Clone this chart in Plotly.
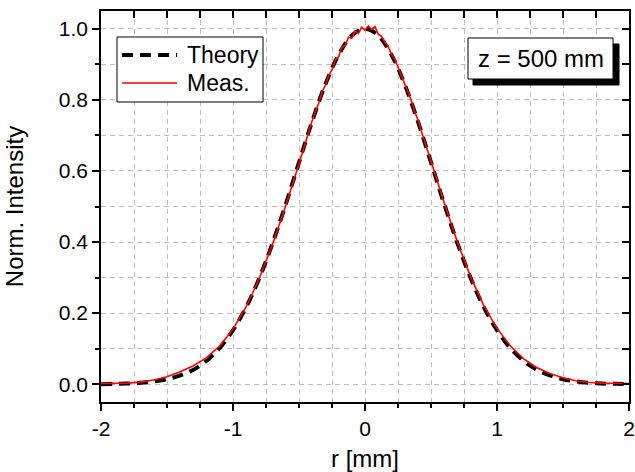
import plotly.graph_objects as go

# beam profile
r_theory = [-2.0, -1.9, -1.8, -1.7, -1.6, -1.5, -1.4, -1.3, -1.2, -1.1, -1.0,
            -0.9, -0.8, -0.7, -0.6, -0.5, -0.4, -0.3, -0.2, -0.1, 0.0,
            0.1, 0.2, 0.3, 0.4, 0.5, 0.6, 0.7, 0.8, 0.9, 1.0,
            1.1, 1.2, 1.3, 1.4, 1.5, 1.6, 1.7, 1.8, 1.9, 2.0]
i_theory = [0.000, 0.001, 0.002, 0.004, 0.008, 0.014, 0.025, 0.041, 0.066, 0.102, 0.152,
            0.217, 0.299, 0.397, 0.507, 0.624, 0.740, 0.844, 0.927, 0.981, 1.000,
            0.981, 0.927, 0.844, 0.740, 0.624, 0.507, 0.397, 0.299, 0.217, 0.152,
            0.102, 0.066, 0.041, 0.025, 0.014, 0.008, 0.004, 0.002, 0.001, 0.000]

r_meas = [-2.0, -1.9, -1.8, -1.7, -1.6, -1.5, -1.4, -1.3, -1.2, -1.1, -1.0,
          -0.9, -0.8, -0.7, -0.6, -0.5,
          -0.475, -0.45, -0.425, -0.4, -0.375, -0.35, -0.325, -0.3, -0.275, -0.25,
          -0.225, -0.2, -0.175, -0.15, -0.125, -0.1, -0.075, -0.05, -0.025, 0.0,
          0.025, 0.05, 0.075, 0.1, 0.125, 0.15, 0.175, 0.2, 0.225, 0.25,
          0.275, 0.3, 0.325, 0.35, 0.375, 0.4, 0.425, 0.45, 0.475, 0.5,
          0.6, 0.7, 0.8, 0.9, 1.0, 1.1, 1.2, 1.3, 1.4, 1.5,
          1.6, 1.7, 1.8, 1.9, 2.0]
i_meas = [0.002, 0.002, 0.003, 0.006, 0.012, 0.021, 0.035, 0.052, 0.075, 0.108, 0.155,
          0.218, 0.298, 0.394, 0.503, 0.620,
          0.652, 0.684, 0.709, 0.742, 0.768, 0.791, 0.823, 0.841, 0.869, 0.884,
          0.912, 0.921, 0.948, 0.953, 0.976, 0.973, 0.994, 0.987, 1.004, 0.996,
          1.008, 0.998, 1.006, 0.985, 0.979, 0.962, 0.951, 0.928, 0.915, 0.892,
          0.870, 0.849, 0.822, 0.799, 0.769, 0.745, 0.714, 0.687, 0.655, 0.628,
          0.510, 0.400, 0.302, 0.221, 0.157, 0.108, 0.072, 0.047, 0.030, 0.018,
          0.010, 0.005, 0.003, 0.002, 0.002]

x_ticks = [-2, -1, 0, 1, 2]
x_labels = ["-2", "-1", "0", "1", "2"]
y_ticks = [0.0, 0.2, 0.4, 0.6, 0.8, 1.0]
y_labels = ["0.0", "0.2", "0.4", "0.6", "0.8", "1.0"]
series_names = ["Theory", "Meas."]
label_text = "z = 500 mm"

FONT = "Liberation Sans, Arial, sans-serif"
GRID = "#bdbdbd"
X_RANGE = [-2, 2]
Y_RANGE = [-0.05, 1.05]
THEORY_LINE = dict(color="black", width=4, dash="11px,7px")
MEAS_LINE = dict(color="red", width=1.6)

# plot area in window pixels (page margin is removed below)
PX_L, PX_R, PX_T, PX_B = 101, 629, 11, 402


def px(x, y):
    return ((x - PX_L) / (PX_R - PX_L), (PX_B - y) / (PX_B - PX_T))


fig = go.Figure()
fig.add_trace(go.Scatter(
    x=r_theory, y=i_theory, name=series_names[0], mode="lines",
    line=dict(THEORY_LINE, shape="spline")
))
fig.add_trace(go.Scatter(
    x=r_meas, y=i_meas, name=series_names[1], mode="lines", line=MEAS_LINE
))
# invisible trace so the mirrored axes get drawn
fig.add_trace(go.Scatter(
    x=X_RANGE, y=Y_RANGE, xaxis="x2", yaxis="y2", mode="markers",
    marker=dict(opacity=0), showlegend=False, hoverinfo="skip"
))

axis_common = dict(
    showline=True, linecolor="black", linewidth=1.5,
    ticks="outside", ticklen=7, tickwidth=1.5, tickcolor="black",
    showgrid=True, gridcolor=GRID, griddash="5px,4px", gridwidth=1,
    zeroline=False, automargin=False, ticklabeloverflow="allow",
    tickfont=dict(size=21, color="black", family=FONT),
)
mirror_common = dict(
    showline=True, linecolor="black", linewidth=1.5,
    ticks="inside", ticklen=7, tickwidth=1.5, tickcolor="black",
    showticklabels=False, showgrid=False, zeroline=False, automargin=False,
)

fig.update_layout(
    width=635, height=472,
    paper_bgcolor="white", plot_bgcolor="white",
    margin=dict(l=PX_L, r=635 - PX_R, t=PX_T, b=472 - PX_B),
    font=dict(family=FONT, size=22, color="black"),
    showlegend=False,
    xaxis=dict(
        range=X_RANGE, tickvals=x_ticks, ticktext=x_labels,
        minor=dict(dtick=0.25, ticks="outside", ticklen=4, tickcolor="black",
                   showgrid=True, gridcolor=GRID, griddash="5px,4px"),
        title=dict(text="r [mm]", font=dict(size=24), standoff=14),
        **axis_common
    ),
    yaxis=dict(
        range=Y_RANGE, tickvals=y_ticks, ticktext=y_labels,
        minor=dict(dtick=0.1, ticks="outside", ticklen=4, tickcolor="black",
                   showgrid=True, gridcolor=GRID, griddash="5px,4px"),
        title=dict(text="Norm. Intensity", font=dict(size=24), standoff=28),
        **axis_common
    ),
    # mirrored axes with ticks pointing inward
    xaxis2=dict(
        overlaying="x", side="top", anchor="y", range=X_RANGE, tickvals=x_ticks,
        minor=dict(dtick=0.25, ticks="inside", ticklen=7, tickcolor="black"),
        **mirror_common
    ),
    yaxis2=dict(
        overlaying="y", side="right", anchor="x", range=Y_RANGE, tickvals=y_ticks,
        minor=dict(dtick=0.1, ticks="inside", ticklen=7, tickcolor="black"),
        **mirror_common
    ),
)

# legend box drawn by hand, to match the long line samples
x0, y1 = px(117, 37)
x1, y0 = px(263, 102)
fig.add_shape(type="rect", xref="paper", yref="paper", x0=x0, x1=x1, y0=y0, y1=y1,
              fillcolor="white", line=dict(color="black", width=1))
for name, style, row_y in zip(series_names, [THEORY_LINE, MEAS_LINE], [55, 83]):
    lx0, ly = px(122, row_y)
    lx1, _ = px(177, row_y)
    tx, _ = px(185, row_y)
    fig.add_shape(type="line", xref="paper", yref="paper",
                  x0=lx0, x1=lx1, y0=ly, y1=ly, line=style)
    fig.add_annotation(text=name, xref="paper", yref="paper", x=tx, y=ly,
                       xanchor="left", yanchor="middle", showarrow=False,
                       font=dict(size=23, family=FONT, color="black"))

# label box with a drop shadow
sx0, sy1 = px(473, 44)
sx1, sy0 = px(619, 85)
fig.add_shape(type="rect", xref="paper", yref="paper", x0=sx0, x1=sx1, y0=sy0, y1=sy1,
              fillcolor="black", line=dict(color="black", width=1))
bx0, by1 = px(468, 38)
bx1, by0 = px(613, 79)
fig.add_shape(type="rect", xref="paper", yref="paper", x0=bx0, x1=bx1, y0=by0, y1=by1,
              fillcolor="white", line=dict(color="black", width=1))
fig.add_annotation(text=label_text, xref="paper", yref="paper",
                   x=(bx0 + bx1) / 2, y=(by0 + by1) / 2,
                   xanchor="center", yanchor="middle", showarrow=False,
                   font=dict(size=24, family=FONT, color="black"))

# drop the default 8px body margin so the figure fills the window
fig.write_html("out.html",
               config={"displayModeBar": False},
               post_script="document.body.style.margin='0';"
                           "document.body.style.overflow='hidden';")
